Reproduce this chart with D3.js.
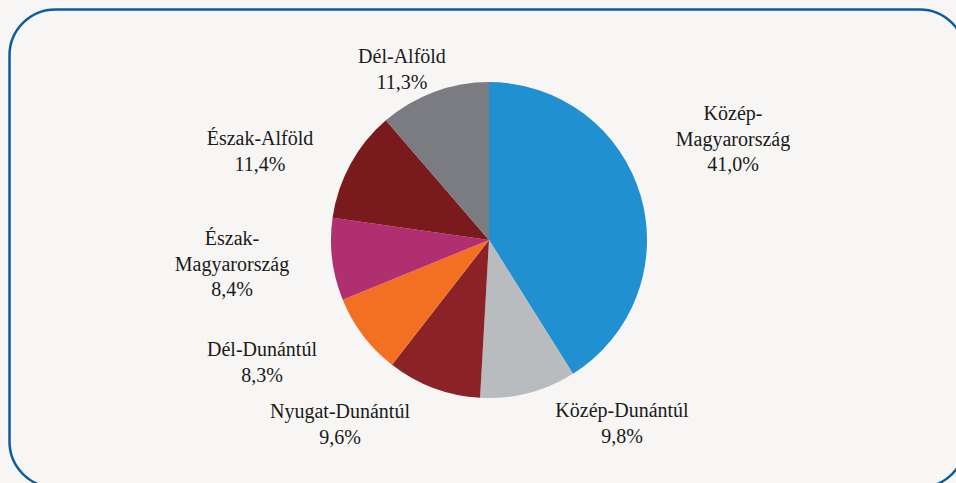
<!DOCTYPE html>
<html>
<head>
<meta charset="utf-8">
<script src="https://cdnjs.cloudflare.com/ajax/libs/d3/7.8.5/d3.min.js"></script>
<style>
  body { margin: 0; background: #f7f6f4; }
  svg { display: block; }
  svg text { font-family: 'Liberation Serif', 'Times New Roman', serif !important; }
</style>
</head>
<body>
<div id="pie"></div>
<script>
// regions, clockwise from 12 o'clock
var regions = ['Közép-Magyarország', 'Közép-Dunántúl', 'Nyugat-Dunántúl', 'Dél-Dunántúl',
               'Észak-Magyarország', 'Észak-Alföld', 'Dél-Alföld'];
var shares = [41.0, 9.8, 9.6, 8.3, 8.4, 11.4, 11.3];
var labelLines = [['Közép-', 'Magyarország'], ['Közép-Dunántúl'], ['Nyugat-Dunántúl'], ['Dél-Dunántúl'],
                  ['Észak-', 'Magyarország'], ['Észak-Alföld'], ['Dél-Alföld']];
var colors = ['#2190d0', '#b9bcbf', '#8b2227', '#f37022', '#b02f70', '#7b1a1d', '#7b7c81'];

const width = 956;
const height = 483;
const cx = 489, cy = 240, radius = 158;
const lineH = 25.5;

// label centre offsets from pie centre (x, y of first line baseline)
var labelPos = [[244, -120], [133, 177], [-149, 178], [-227, 116], [-257, 5], [-229, -95], [-87, -177]];

var svg = d3.select('#pie')
    .append('svg')
    .attr('width', width)
    .attr('height', height);

svg.append('rect')
    .attr('x', 9.5)
    .attr('y', 9.5)
    .attr('width', 956)
    .attr('height', 478)
    .attr('rx', 46)
    .attr('fill', '#f7f6f4')
    .attr('stroke', '#0e5c9f')
    .attr('stroke-width', 2.5);

var pie = d3.pie().sort(null).value(d => d);
var arc = d3.arc().innerRadius(0).outerRadius(radius);

svg.append('g')
    .attr('transform', 'translate(' + cx + ',' + cy + ')')
    .selectAll('path')
    .data(pie(shares))
    .enter()
    .append('path')
    .attr('d', arc)
    .attr('fill', (d, i) => colors[i]);

var fmt = v => d3.format('.1f')(v).replace('.', ',') + '%';

// one text element per line
var lines = [];
regions.forEach(function(r, i) {
    labelLines[i].concat([fmt(shares[i])]).forEach(function(l, j) {
        lines.push({ text: l, x: cx + labelPos[i][0], y: cy + labelPos[i][1] + j * lineH });
    });
});

svg.selectAll('text')
    .data(lines)
    .enter()
    .append('text')
    .attr('x', d => d.x)
    .attr('y', d => d.y)
    .attr('text-anchor', 'middle')
    .attr('font-family', 'Liberation Serif')
    .style('font-family', "'Liberation Serif'", 'important')
    .attr('font-size', 20)
    .attr('fill', '#1a1a1a')
    .text(d => d.text);
</script>
</body>
</html>
